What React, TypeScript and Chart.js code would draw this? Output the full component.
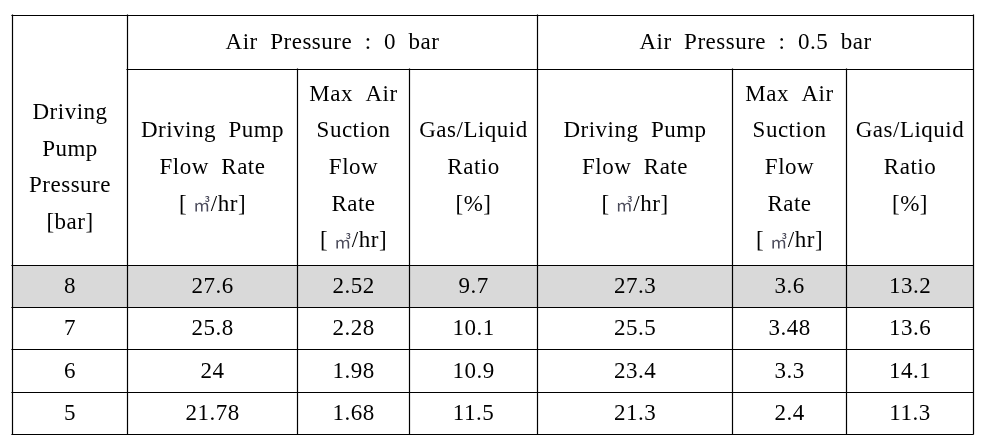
import React, { useEffect, useRef } from "react";
import { Chart, registerables } from "chart.js";

Chart.register(...registerables);

// ---- data ----
const pressures = ["8", "7", "6", "5"];
const pumpFlow0 = [27.6, 25.8, 24, 21.78];
const airFlow0 = [2.52, 2.28, 1.98, 1.68];
const ratio0 = [9.7, 10.1, 10.9, 11.5];
const pumpFlow05 = [27.3, 25.5, 23.4, 21.3];
const airFlow05 = [3.6, 3.48, 3.3, 2.4];
const ratio05 = [13.2, 13.6, 14.1, 11.3];

const groupHeaders = ["Air  Pressure  :  0  bar", "Air  Pressure  :  0.5  bar"];
const firstHeader = ["Driving", "Pump", "Pressure", "[bar]"];
const pumpHeader = ["Driving  Pump", "Flow  Rate", "[㎥/hr]"];
const airHeader = ["Max  Air", "Suction", "Flow", "Rate", "[㎥/hr]"];
const ratioHeader = ["Gas/Liquid", "Ratio", "[%]"];

// ---- layout (in scale units) ----
const colEdges = [0, 115, 285, 397, 525, 720, 834, 961];
const rowEdges = [0, 54, 250, 292, 334, 377, 419];
const LINE_H = 36.7;
const FONT = '23px "Liberation Serif", serif';
const UNIT_FONT = '17px "Noto Sans CJK KR", sans-serif';
const UNIT = "㎥";

const tablePlugin = {
  id: "tablePlugin",
  afterDraw(chart: any) {
    const ctx: CanvasRenderingContext2D = chart.ctx;
    const xs = chart.scales.x;
    const ys = chart.scales.y;
    const X = (v: number) => xs.getPixelForValue(v);
    const Y = (v: number) => ys.getPixelForValue(v);
    const crisp = (p: number) => Math.round(p) + 0.5;

    ctx.save();
    ctx.fillStyle = "#d9d9d9";
    ctx.fillRect(X(colEdges[0]), Y(rowEdges[2]), X(colEdges[7]) - X(colEdges[0]), Y(rowEdges[3]) - Y(rowEdges[2]));

    ctx.strokeStyle = "#000";
    ctx.lineWidth = 1.2;
    const hline = (y: number, x0: number, x1: number) => {
      ctx.beginPath();
      ctx.moveTo(X(x0) - 0.6, crisp(Y(y)));
      ctx.lineTo(X(x1) + 0.6, crisp(Y(y)));
      ctx.stroke();
    };
    const vline = (x: number, y0: number, y1: number) => {
      ctx.beginPath();
      ctx.moveTo(crisp(X(x)), Y(y0) - 0.6);
      ctx.lineTo(crisp(X(x)), Y(y1) + 0.6);
      ctx.stroke();
    };
    const L = colEdges[0];
    const R = colEdges[colEdges.length - 1];
    const T = rowEdges[0];
    const B = rowEdges[rowEdges.length - 1];
    hline(rowEdges[0], L, R);
    hline(rowEdges[1], colEdges[1], R);
    for (let i = 2; i < rowEdges.length; i++) hline(rowEdges[i], L, R);
    vline(colEdges[0], T, B);
    vline(colEdges[1], T, B);
    vline(colEdges[4], T, B);
    vline(colEdges[7], T, B);
    [2, 3, 5, 6].forEach((c) => vline(colEdges[c], rowEdges[1], B));

    ctx.fillStyle = "#000";
    (ctx as any).letterSpacing = "0.5px";
    ctx.textBaseline = "middle";

    const drawLine = (t: string, cx: number, cy: number) => {
      const idx = t.indexOf(UNIT);
      if (idx < 0) {
        ctx.font = FONT;
        ctx.textAlign = "center";
        ctx.fillStyle = "#000";
        ctx.fillText(t, cx, cy);
        return;
      }
      const pre = t.slice(0, idx) + " ";
      const post = t.slice(idx + UNIT.length);
      ctx.font = FONT;
      const wPre = ctx.measureText(pre).width;
      const wPost = ctx.measureText(post).width;
      ctx.font = UNIT_FONT;
      const wU = ctx.measureText(UNIT).width;
      let x = cx - (wPre + wU + wPost) / 2;
      ctx.textAlign = "left";
      ctx.font = FONT;
      ctx.fillStyle = "#000";
      ctx.fillText(pre, x, cy);
      x += wPre;
      ctx.font = UNIT_FONT;
      ctx.fillStyle = "#4a4a5a";
      ctx.fillText(UNIT, x, cy);
      x += wU;
      ctx.font = FONT;
      ctx.fillStyle = "#000";
      ctx.fillText(post, x, cy);
    };

    const cellText = (lines: string[], c0: number, c1: number, r0: number, r1: number) => {
      const cx = (X(colEdges[c0]) + X(colEdges[c1])) / 2 + 0.5;
      const cy = (Y(rowEdges[r0]) + Y(rowEdges[r1])) / 2 + 1;
      const start = cy - ((lines.length - 1) * LINE_H) / 2;
      lines.forEach((t, i) => drawLine(t, cx, start + i * LINE_H));
    };
    cellText([groupHeaders[0]], 1, 4, 0, 1);
    cellText([groupHeaders[1]], 4, 7, 0, 1);
    cellText(firstHeader, 0, 1, 1, 2);
    cellText(pumpHeader, 1, 2, 1, 2);
    cellText(airHeader, 2, 3, 1, 2);
    cellText(ratioHeader, 3, 4, 1, 2);
    cellText(pumpHeader, 4, 5, 1, 2);
    cellText(airHeader, 5, 6, 1, 2);
    cellText(ratioHeader, 6, 7, 1, 2);

    const cols = [pressures, pumpFlow0, airFlow0, ratio0, pumpFlow05, airFlow05, ratio05];
    pressures.forEach((_, r) => {
      cols.forEach((col, c) => {
        cellText([String(col[r])], c, c + 1, r + 2, r + 3);
      });
    });
    ctx.restore();
  },
};

export default function App() {
  const ref = useRef<HTMLCanvasElement>(null);
  useEffect(() => {
    document.body.style.margin = "0";
    const chart = new Chart(ref.current!, {
      type: "scatter",
      data: { datasets: [{ data: [], pointRadius: 0 }] },
      options: {
        animation: false,
        responsive: false,
        devicePixelRatio: 1,
        layout: { padding: { left: 12, right: 17, top: 15, bottom: 12 } },
        plugins: { legend: { display: false }, tooltip: { enabled: false } },
        scales: {
          x: { type: "linear", min: colEdges[0], max: colEdges[colEdges.length - 1], display: false },
          y: { type: "linear", min: rowEdges[0], max: rowEdges[rowEdges.length - 1], reverse: true, display: false },
        },
      },
      plugins: [tablePlugin],
    });
    return () => chart.destroy();
  }, []);
  return (
    <div style={{ position: "fixed", left: 0, top: 0, width: 990, height: 446, background: "#fff" }}>
      <canvas ref={ref} width={990} height={446} style={{ display: "block" }} />
    </div>
  );
}
